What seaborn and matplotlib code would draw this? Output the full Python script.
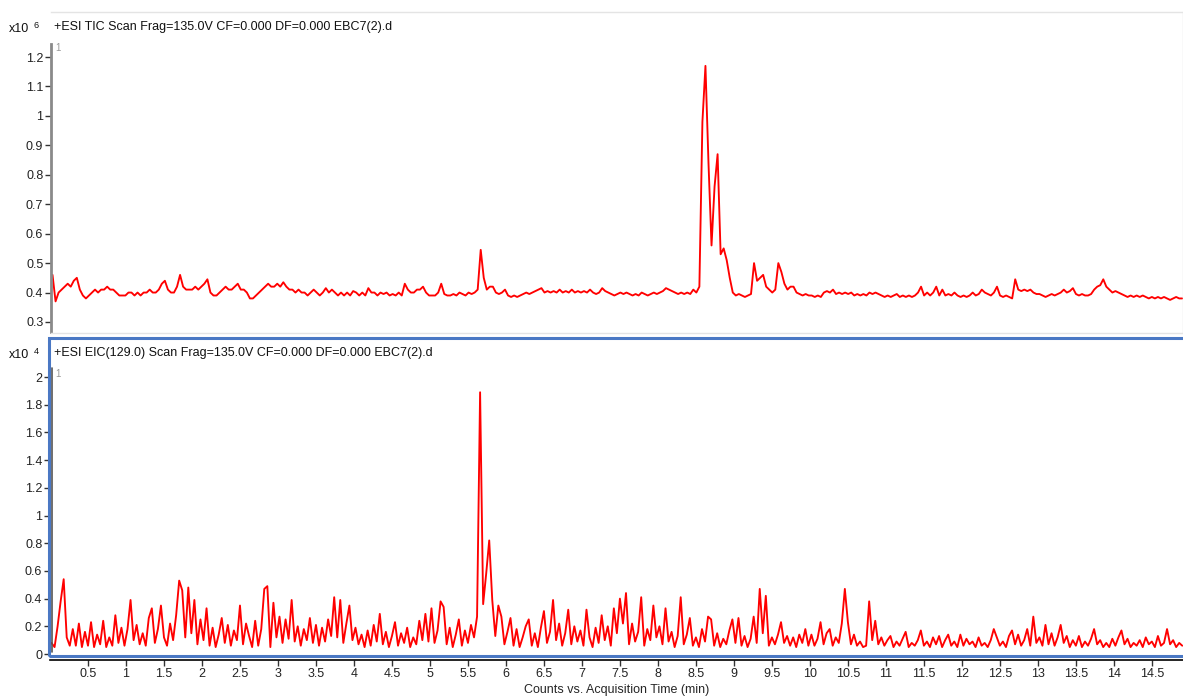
import numpy as np
import pandas as pd
import matplotlib
matplotlib.use("Agg")
import matplotlib.pyplot as plt
from matplotlib.patches import Rectangle
from matplotlib.lines import Line2D
from matplotlib.ticker import FuncFormatter
import seaborn as sns

# === Data ===
# scans every 0.04 min starting at 0.02 min
SCAN_START = 0.02
SCAN_STEP = 0.04

# TIC counts (x10^6), one row per minute
TIC = [
    0.46, 0.37, 0.40, 0.41, 0.42, 0.43, 0.42, 0.44, 0.45, 0.41, 0.39, 0.38, 0.39, 0.40, 0.41, 0.40, 0.41, 0.41, 0.42, 0.41, 0.41, 0.40, 0.39, 0.39, 0.39,
    0.40, 0.40, 0.39, 0.40, 0.39, 0.40, 0.40, 0.41, 0.40, 0.40, 0.41, 0.43, 0.44, 0.41, 0.40, 0.40, 0.42, 0.46, 0.42, 0.41, 0.41, 0.41, 0.42, 0.41, 0.42,
    0.43, 0.445, 0.40, 0.39, 0.39, 0.40, 0.41, 0.42, 0.41, 0.41, 0.42, 0.43, 0.41, 0.41, 0.40, 0.38, 0.38, 0.39, 0.40, 0.41, 0.42, 0.43, 0.42, 0.42, 0.43,
    0.42, 0.435, 0.42, 0.41, 0.41, 0.40, 0.41, 0.40, 0.40, 0.39, 0.40, 0.41, 0.40, 0.39, 0.40, 0.415, 0.40, 0.41, 0.40, 0.39, 0.40, 0.39, 0.40, 0.39, 0.405,
    0.40, 0.39, 0.40, 0.39, 0.415, 0.40, 0.40, 0.39, 0.40, 0.395, 0.40, 0.39, 0.395, 0.39, 0.40, 0.39, 0.43, 0.41, 0.40, 0.40, 0.41, 0.41, 0.42, 0.40, 0.39,
    0.39, 0.39, 0.40, 0.43, 0.395, 0.39, 0.39, 0.395, 0.39, 0.40, 0.395, 0.39, 0.40, 0.395, 0.40, 0.41, 0.545, 0.45, 0.41, 0.42, 0.42, 0.40, 0.395, 0.40, 0.41,
    0.39, 0.385, 0.39, 0.385, 0.39, 0.395, 0.40, 0.395, 0.40, 0.405, 0.41, 0.415, 0.40, 0.405, 0.40, 0.405, 0.40, 0.41, 0.40, 0.405, 0.40, 0.41, 0.40, 0.405, 0.40,
    0.405, 0.40, 0.41, 0.40, 0.395, 0.40, 0.415, 0.405, 0.40, 0.395, 0.39, 0.395, 0.40, 0.395, 0.40, 0.395, 0.39, 0.395, 0.39, 0.40, 0.395, 0.39, 0.395, 0.40, 0.395,
    0.40, 0.405, 0.415, 0.41, 0.405, 0.40, 0.395, 0.40, 0.395, 0.40, 0.395, 0.41, 0.40, 0.42, 0.98, 1.17, 0.84, 0.56, 0.76, 0.87, 0.53, 0.55, 0.51, 0.45, 0.40,
    0.39, 0.395, 0.39, 0.385, 0.39, 0.395, 0.50, 0.44, 0.45, 0.46, 0.42, 0.41, 0.40, 0.41, 0.50, 0.47, 0.43, 0.41, 0.42, 0.42, 0.40, 0.395, 0.39, 0.395, 0.39,
    0.39, 0.385, 0.39, 0.385, 0.40, 0.405, 0.40, 0.41, 0.395, 0.40, 0.395, 0.40, 0.395, 0.40, 0.39, 0.395, 0.39, 0.395, 0.39, 0.40, 0.395, 0.40, 0.395, 0.39, 0.385,
    0.39, 0.385, 0.39, 0.395, 0.385, 0.39, 0.385, 0.39, 0.385, 0.39, 0.40, 0.42, 0.39, 0.40, 0.39, 0.40, 0.42, 0.39, 0.41, 0.39, 0.395, 0.39, 0.40, 0.39, 0.385,
    0.39, 0.385, 0.39, 0.40, 0.39, 0.395, 0.41, 0.40, 0.395, 0.39, 0.40, 0.42, 0.39, 0.385, 0.39, 0.385, 0.38, 0.445, 0.41, 0.405, 0.41, 0.405, 0.41, 0.40, 0.395,
    0.395, 0.39, 0.385, 0.39, 0.395, 0.39, 0.395, 0.40, 0.41, 0.40, 0.405, 0.415, 0.395, 0.39, 0.395, 0.39, 0.39, 0.395, 0.41, 0.42, 0.425, 0.445, 0.42, 0.41, 0.40,
    0.405, 0.40, 0.395, 0.39, 0.385, 0.39, 0.385, 0.39, 0.385, 0.39, 0.385, 0.38, 0.385, 0.38, 0.385, 0.38, 0.385, 0.38, 0.375, 0.38, 0.385, 0.38, 0.38,
]

# EIC(129.0) counts (x10^4)
EIC = [
    0.08, 0.05, 0.20, 0.38, 0.54, 0.12, 0.06, 0.18, 0.06, 0.22, 0.05, 0.16, 0.06, 0.23, 0.05, 0.14, 0.07, 0.24, 0.05, 0.12, 0.06, 0.28, 0.08, 0.19, 0.06,
    0.18, 0.39, 0.10, 0.21, 0.07, 0.15, 0.06, 0.26, 0.33, 0.08, 0.18, 0.35, 0.12, 0.06, 0.22, 0.10, 0.28, 0.53, 0.46, 0.12, 0.48, 0.15, 0.39, 0.07, 0.25,
    0.10, 0.33, 0.06, 0.19, 0.05, 0.14, 0.26, 0.08, 0.21, 0.06, 0.17, 0.10, 0.35, 0.07, 0.22, 0.13, 0.05, 0.24, 0.06, 0.18, 0.47, 0.49, 0.05, 0.37, 0.12,
    0.27, 0.08, 0.25, 0.11, 0.39, 0.09, 0.20, 0.06, 0.18, 0.10, 0.26, 0.08, 0.21, 0.06, 0.19, 0.09, 0.25, 0.13, 0.41, 0.12, 0.39, 0.08, 0.22, 0.35, 0.10,
    0.19, 0.07, 0.14, 0.05, 0.17, 0.06, 0.21, 0.09, 0.29, 0.07, 0.16, 0.05, 0.13, 0.23, 0.06, 0.15, 0.08, 0.19, 0.05, 0.12, 0.07, 0.24, 0.10, 0.29, 0.09,
    0.33, 0.08, 0.17, 0.38, 0.34, 0.07, 0.19, 0.05, 0.14, 0.25, 0.06, 0.17, 0.08, 0.21, 0.12, 0.27, 1.89, 0.36, 0.58, 0.82, 0.39, 0.13, 0.35, 0.27, 0.07,
    0.16, 0.26, 0.06, 0.18, 0.05, 0.12, 0.20, 0.25, 0.06, 0.15, 0.05, 0.19, 0.31, 0.08, 0.16, 0.39, 0.10, 0.22, 0.06, 0.15, 0.32, 0.07, 0.20, 0.09, 0.17,
    0.06, 0.32, 0.12, 0.05, 0.19, 0.08, 0.28, 0.10, 0.20, 0.06, 0.33, 0.15, 0.40, 0.22, 0.44, 0.07, 0.22, 0.09, 0.16, 0.41, 0.06, 0.18, 0.10, 0.35, 0.12,
    0.20, 0.07, 0.33, 0.09, 0.16, 0.05, 0.13, 0.41, 0.07, 0.14, 0.26, 0.06, 0.12, 0.05, 0.18, 0.09, 0.27, 0.25, 0.06, 0.15, 0.05, 0.11, 0.07, 0.17, 0.25,
    0.08, 0.26, 0.06, 0.13, 0.05, 0.11, 0.27, 0.08, 0.47, 0.15, 0.42, 0.06, 0.12, 0.07, 0.14, 0.23, 0.08, 0.13, 0.06, 0.12, 0.05, 0.14, 0.08, 0.18, 0.06,
    0.14, 0.06, 0.11, 0.23, 0.07, 0.15, 0.18, 0.06, 0.12, 0.08, 0.22, 0.47, 0.23, 0.07, 0.14, 0.06, 0.09, 0.05, 0.06, 0.38, 0.10, 0.24, 0.07, 0.12, 0.06,
    0.10, 0.13, 0.05, 0.09, 0.06, 0.11, 0.16, 0.05, 0.08, 0.06, 0.10, 0.17, 0.06, 0.09, 0.05, 0.12, 0.07, 0.13, 0.05, 0.10, 0.14, 0.06, 0.09, 0.05, 0.14,
    0.06, 0.11, 0.07, 0.09, 0.05, 0.12, 0.06, 0.08, 0.05, 0.10, 0.18, 0.12, 0.06, 0.09, 0.05, 0.13, 0.17, 0.07, 0.14, 0.06, 0.10, 0.18, 0.06, 0.27, 0.08,
    0.12, 0.06, 0.21, 0.07, 0.15, 0.06, 0.12, 0.21, 0.08, 0.13, 0.05, 0.10, 0.06, 0.13, 0.05, 0.09, 0.06, 0.11, 0.18, 0.07, 0.10, 0.05, 0.08, 0.05, 0.11,
    0.06, 0.12, 0.17, 0.07, 0.11, 0.05, 0.08, 0.06, 0.10, 0.05, 0.12, 0.07, 0.09, 0.05, 0.13, 0.06, 0.08, 0.18, 0.07, 0.10, 0.05, 0.08, 0.06,
]

TOP_TITLE = "+ESI TIC Scan Frag=135.0V CF=0.000 DF=0.000 EBC7(2).d"
BOTTOM_TITLE = "+ESI EIC(129.0) Scan Frag=135.0V CF=0.000 DF=0.000 EBC7(2).d"
X_LABEL = "Counts vs. Acquisition Time (min)"
TOP_EXP = "6"
BOTTOM_EXP = "4"
TOP_YTICKS = [0.3, 0.4, 0.5, 0.6, 0.7, 0.8, 0.9, 1.0, 1.1, 1.2]
BOTTOM_YTICKS = [0, 0.2, 0.4, 0.6, 0.8, 1.0, 1.2, 1.4, 1.6, 1.8, 2.0]
X_TICKS = [0.5, 1, 1.5, 2, 2.5, 3, 3.5, 4, 4.5, 5, 5.5, 6, 6.5, 7, 7.5,
           8, 8.5, 9, 9.5, 10, 10.5, 11, 11.5, 12, 12.5, 13, 13.5, 14, 14.5]

# === Style ===
sns.set_theme(style="white")
plt.rcParams['font.family'] = ['Liberation Sans', 'DejaVu Sans']
FS = 9
RED = '#ff0000'
BLUE = '#4a78c4'
LW = 1.35

W, H = 1183, 696
fig = plt.figure(figsize=(W / 100, H / 100), dpi=100)


def fx(px):
    return px / W


def fy(py):
    return 1 - py / H


fmt = FuncFormatter(lambda v, _: f"{v:g}")

tic_df = pd.DataFrame({'time': np.round(SCAN_START + SCAN_STEP * np.arange(len(TIC)), 2), 'counts': TIC})
eic_df = pd.DataFrame({'time': np.round(SCAN_START + SCAN_STEP * np.arange(len(EIC)), 2), 'counts': EIC})

# --- top panel (TIC) ---
ax1 = fig.add_axes([fx(51), fy(333), fx(1183 - 51), (333 - 12) / H])
sns.lineplot(data=tic_df, x='time', y='counts', ax=ax1, color=RED, linewidth=LW, estimator=None)
ax1.set_xlim(0, 14.91)
ax1.set_ylim(0.2626, 1.353)
ax1.set_yticks(TOP_YTICKS)
ax1.yaxis.set_major_formatter(fmt)
ax1.set_xticks([])
for s in ['top', 'right', 'bottom']:
    ax1.spines[s].set_color('#e4e4e4')
    ax1.spines[s].set_linewidth(1)
ax1.spines['left'].set_color('#8a8a8a')
ax1.spines['left'].set_linewidth(2)
ax1.spines['left'].set_bounds(0.265, 1.245)

# --- bottom panel (EIC) ---
ax2 = fig.add_axes([fx(50), fy(656), fx(1183 - 50), (656 - 337) / H])
sns.lineplot(data=eic_df, x='time', y='counts', ax=ax2, color=RED, linewidth=LW, estimator=None)
ax2.set_xlim(0, 14.91)
ax2.set_ylim(-0.0144, 2.289)
ax2.set_yticks(BOTTOM_YTICKS)
ax2.yaxis.set_major_formatter(fmt)
ax2.set_xticks(X_TICKS)
ax2.xaxis.set_major_formatter(fmt)
for s in ['top', 'right', 'left']:
    ax2.spines[s].set_visible(False)
ax2.spines['bottom'].set_color('black')
ax2.spines['bottom'].set_linewidth(1.2)
ax2.spines['bottom'].set_position(('outward', 3))
ax2.set_xlabel(X_LABEL, fontsize=FS, labelpad=3)
ax2.set_ylabel('')
ax1.set_xlabel('')
ax1.set_ylabel('')

# blue frame around the active panel
fig.patches.append(Rectangle((fx(49), fy(656)), fx(1183 - 49) + 0.01, (656 - 338) / H,
                             transform=fig.transFigure, fill=False,
                             edgecolor=BLUE, linewidth=2.2, zorder=5))
fig.lines.append(Line2D([fx(51.5), fx(51.5)], [fy(652), fy(368)], transform=fig.transFigure,
                        color='#555555', linewidth=1.2, zorder=6))

for ax in (ax1, ax2):
    ax.tick_params(axis='both', which='both', direction='out', length=4, width=1,
                   color='#333333', labelsize=FS, labelcolor='#222222', pad=1.5,
                   left=True, bottom=(ax is ax2))
    ax.grid(False)

# titles and scale factors
fig.text(fx(54), fy(27), TOP_TITLE, fontsize=FS, va='center', ha='left', color='#111111')
fig.text(fx(54), fy(353), BOTTOM_TITLE, fontsize=FS, va='center', ha='left', color='#111111')
fig.text(fx(9), fy(29), 'x10', fontsize=FS, va='center', ha='left', color='#111111')
fig.text(fx(34), fy(25), TOP_EXP, fontsize=6.5, va='center', ha='left', color='#111111')
fig.text(fx(9), fy(355), 'x10', fontsize=FS, va='center', ha='left', color='#111111')
fig.text(fx(34), fy(351), BOTTOM_EXP, fontsize=6.5, va='center', ha='left', color='#111111')
fig.text(fx(55), fy(48), '1', fontsize=7, va='center', ha='left', color='#999999')
fig.text(fx(55), fy(374), '1', fontsize=7, va='center', ha='left', color='#999999')

fig.savefig('out.png', dpi=100)
